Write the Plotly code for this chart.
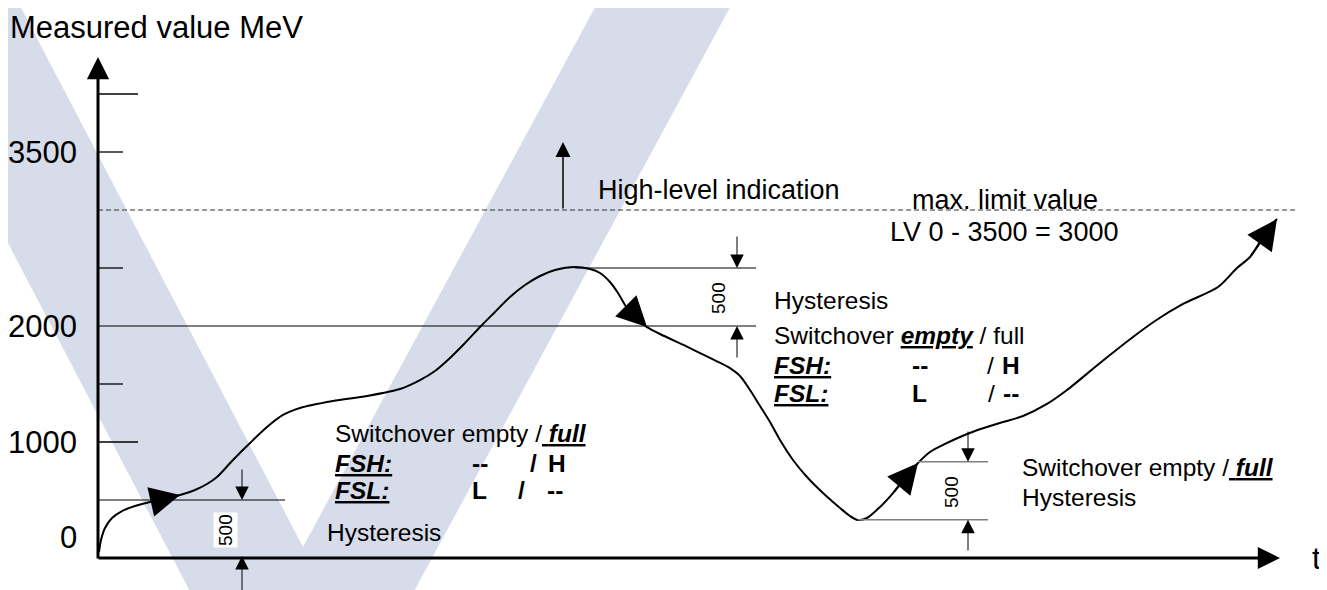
import plotly.graph_objects as go

# ---------------- data ----------------
# time axis (arbitrary units) and measured value (MeV) of the process curve
t_vals = [0.1, 0.3, 0.7, 1.4, 2.4, 3.7, 5.2, 6.7, 8.2, 9.7, 10.9, 11.9, 13.5, 15.2,
          16.9, 18.5, 20.2, 23.5, 26.9, 30.2, 32.2, 33.7, 35.2, 36.7, 38.2, 39.7,
          41.2, 42.7, 44.2, 45.7, 47.7, 49.2, 50.2, 51.2, 52.0, 52.7, 53.4, 54.2,
          54.9, 56.2, 59.2, 61.4, 63.0, 64.2, 65.2, 66.2, 67.2, 68.2, 69.5, 70.9,
          72.5, 74.2, 75.2, 76.0, 76.9, 78.2, 79.5, 80.7, 82.0, 83.2, 84.7, 86.2,
          87.7, 90.2, 92.5, 94.9, 96.9, 100.2, 103.5, 105.7, 108.5, 112.0, 113.9,
          115.2, 116.0, 116.5, 117.9]
mev_vals = [52, 155, 259, 345, 405, 448, 483, 509, 543, 586, 638, 698, 845, 991,
            1129, 1233, 1293, 1353, 1397, 1457, 1534, 1612, 1724, 1853, 1991, 2121,
            2250, 2353, 2431, 2483, 2509, 2491, 2457, 2379, 2284, 2181, 2095, 2034,
            1991, 1931, 1810, 1716, 1647, 1569, 1448, 1310, 1172, 1017, 845, 698,
            560, 431, 362, 328, 345, 440, 560, 690, 819, 914, 983, 1043,
            1095, 1164, 1224, 1328, 1448, 1681, 1905, 2043, 2190, 2336, 2500,
            2595, 2698, 2784, 2922]

y_tick_vals = [1000, 2000, 3500]
y_tick_text = ["1000", "2000", "3500"]
zero_label = "0"
minor_ticks_long = [1000, 4000]
minor_ticks_short = [1500, 2500, 3500]

limit_value = 3000          # max. limit value (dashed)
switch_low = 500            # lower-left switchover level
hyst_up_low, hyst_up_high = 2000, 2500
hyst_rt_low, hyst_rt_high = 330, 830
hyst_size = "500"

# ---------------- geometry helpers (layout only) ----------------
PAGE_W, PAGE_H = 1327, 590
OFF = 8                      # default body margin of the html page
W, H = PAGE_W - OFF, PAGE_H - OFF
PX_T = 10.0          # px per time unit
PX_V = 58 / 500.0    # px per MeV
X0_PX, Y0_PX = 98, 558
def xr(px):  # page pixel -> axis
    return (px - X0_PX) / PX_T
def yr(py):
    return (Y0_PX - py) / PX_V

FONT = "Arial, Liberation Sans, sans-serif"
BLACK = "#000000"

fig = go.Figure()

# watermark "V"
def P(px, py):
    return f"{(px - OFF) / W:.5f},{1 - (py - OFF) / H:.5f}"
wm_path = ("M " + P(-119, 0) + " L " + P(17, 0) + " L " + P(303, 547) + " L " + P(599, 0) +
           " L " + P(734, 0) + " L " + P(300, 802) + " Z")
shapes = [dict(type="path", path=wm_path, xref="paper", yref="paper",
               fillcolor="#d6dcea", line=dict(width=0), layer="below")]

def hline(y, x0, x1, width=1.2, color=BLACK, dash=None):
    d = dict(type="line", xref="x", yref="y", x0=x0, x1=x1, y0=y, y1=y,
             line=dict(color=color, width=width))
    if dash:
        d["line"]["dash"] = dash
    shapes.append(d)

peak_i = mev_vals.index(max(mev_vals[:40]))
low_i = mev_vals.index(min(mev_vals[40:60]))

for v in minor_ticks_long:
    hline(v, 0, xr(138), 1.3)
for v in minor_ticks_short:
    hline(v, 0, xr(123), 1.3)
hline(switch_low, 0, xr(285), 1.1)
hline(hyst_up_low, 0, xr(756), 1.1)
hline(hyst_up_high, t_vals[peak_i], xr(756), 1.1)
hline(limit_value, 0, xr(1297), 1.0, "#333333", "5px,3px")
hline(hyst_rt_high, xr(918), xr(988), 1.4, "#808080")
hline(hyst_rt_low, t_vals[low_i], xr(988), 1.4, "#808080")

# curve
fig.add_trace(go.Scatter(x=t_vals, y=mev_vals, mode="lines",
                         line=dict(color=BLACK, width=2, shape="spline", smoothing=0.8),
                         hoverinfo="skip", showlegend=False))

ann = []
def arrow(x, y, ax, ay, width=1, size=1, head=2):
    ann.append(dict(x=x, y=y, ax=ax, ay=ay, xref="x", yref="y", axref="x", ayref="y",
                    text="", showarrow=True, arrowhead=head, arrowwidth=width,
                    arrowsize=size, arrowcolor=BLACK, standoff=0, startstandoff=0))

# axes
arrow(0, yr(57), 0, yr(560), width=3, size=1.48)
arrow(xr(1280), 0, xr(97), 0, width=3, size=1.48)

# direction arrows on the curve (tip index, tail index)
for tip, tail in [(8, 6), (38, 35), (58, 56), (76, 73)]:
    arrow(t_vals[tip], mev_vals[tip], t_vals[tail], mev_vals[tail], width=2, size=3.0)

# dimension arrows
DS = 2.7
arrow(xr(242), switch_low, xr(242), yr(468), 1, DS)
arrow(xr(242), yr(556), xr(242), yr(592), 1, DS)
arrow(xr(737), hyst_up_high, xr(737), yr(235), 1, DS)
arrow(xr(737), hyst_up_low, xr(737), yr(359), 1, DS)
arrow(xr(968), hyst_rt_high, xr(968), yr(430), 1, DS)
arrow(xr(968), hyst_rt_low, xr(968), yr(552), 1, DS)
# high-level indication arrow
arrow(xr(563), yr(142), xr(563), limit_value, 1.5, 2.0)

def text(x, y, s, size=24, xanchor="left", yanchor="middle", **kw):
    d = dict(x=x, y=y, xref="x", yref="y", text=s, showarrow=False,
             xanchor=xanchor, yanchor=yanchor,
             font=dict(family=FONT, size=size, color=BLACK))
    d.update(kw)
    ann.append(d)

text(xr(9), yr(OFF + 0.5), "Measured value MeV", 31, yanchor="top", borderpad=0)
for v, s in zip(y_tick_vals, y_tick_text):
    text(xr(79), v, s, 31, xanchor="right")
text(xr(79), yr(537), zero_label, 31, xanchor="right")
text(xr(1316), 0, "t", 31, xanchor="center")

text(xr(596), yr(190), "High-level indication", 27)
text(xr(1005), yr(200), "max. limit value", 27, xanchor="center")
text(xr(1004), yr(232), "LV 0 - 3500 = 3000", 27, xanchor="center")

# upper block
ux = xr(772)
text(ux, yr(300), "Hysteresis", 24.5)
text(ux, yr(335), "Switchover <u><b><i>empty</i></b></u> / full", 24.5)
text(ux, yr(365), "<u><b><i>FSH:</i></b></u>", 24.5)
text(ux, yr(393), "<u><b><i>FSL:</i></b></u>", 24.5)
text(xr(910), yr(365), "<b>--</b>", 24.5)
text(xr(985), yr(365), "/", 24.5)
text(xr(1000), yr(365), "<b>H</b>", 24.5)
text(xr(910), yr(393), "<b>L</b>", 24.5)
text(xr(986), yr(393), "/", 24.5)
text(xr(1001), yr(393), "<b>--</b>", 24.5)

# lower-left block
lx = xr(333)
text(lx, yr(433), "Switchover empty /<u> <b><i>full</i></b></u>", 24.5)
text(lx, yr(463), "<u><b><i>FSH:</i></b></u>", 24.5)
text(lx, yr(490), "<u><b><i>FSL:</i></b></u>", 24.5)
text(xr(470), yr(463), "<b>--</b>", 24.5)
text(xr(528), yr(463), "<b>/</b>", 24.5)
text(xr(546), yr(463), "<b>H</b>", 24.5)
text(xr(470), yr(490), "<b>L</b>", 24.5)
text(xr(516), yr(490), "<b>/</b>", 24.5)
text(xr(545), yr(490), "<b>--</b>", 24.5)
text(xr(325), yr(532), "Hysteresis", 24.5)

# lower-right block
rx = xr(1020)
text(rx, yr(467), "Switchover empty /<u> <b><i>full</i></b></u>", 24.5)
text(rx, yr(497), "Hysteresis", 24.5)

# rotated "500" dimension labels
text(xr(225), yr(530), hyst_size, 19, xanchor="center", textangle=-90, bgcolor="#ffffff")
text(xr(718), yr(298), hyst_size, 19, xanchor="center", textangle=-90)
text(xr(951), yr(492), hyst_size, 19, xanchor="center", textangle=-90)

fig.update_layout(
    width=W, height=H, margin=dict(l=0, r=0, t=0, b=0),
    paper_bgcolor="#ffffff", plot_bgcolor="#ffffff",
    xaxis=dict(visible=False, range=[xr(OFF), xr(PAGE_W)], fixedrange=True),
    yaxis=dict(visible=False, range=[yr(PAGE_H), yr(OFF)], fixedrange=True),
    shapes=shapes, annotations=ann, showlegend=False,
)
fig.write_html("out.html")
